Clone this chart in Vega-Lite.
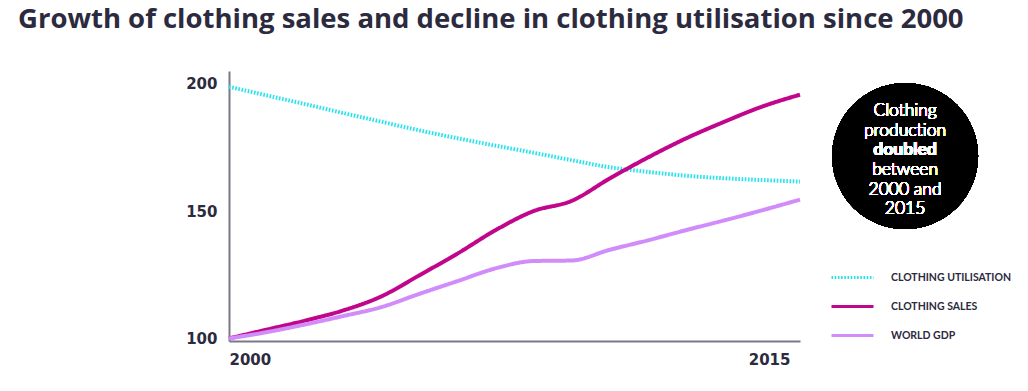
{
  "$schema": "https://vega.github.io/schema/vega-lite/v6.json",
  "autosize": "none",
  "width": 571,
  "height": 270,
  "padding": {"left": 229, "top": 71, "right": 228, "bottom": 50},
  "background": "white",
  "title": {
    "text": "Growth of clothing sales and decline in clothing utilisation since 2000",
    "anchor": "start",
    "frame": "group",
    "dx": -211,
    "offset": 16,
    "baseline": "alphabetic",
    "font": "Open Sans",
    "fontSize": 27.5,
    "fontWeight": "bold",
    "color": "#2c2a3e"
  },
  "config": {
    "view": {"stroke": null},
    "font": "Lato"
  },
  "data": {
    "values": [
      {"year": 2000, "series": "Clothing utilisation", "value": 198.8},
      {"year": 2001, "series": "Clothing utilisation", "value": 195.4},
      {"year": 2002, "series": "Clothing utilisation", "value": 192.0},
      {"year": 2003, "series": "Clothing utilisation", "value": 188.5},
      {"year": 2004, "series": "Clothing utilisation", "value": 185.1},
      {"year": 2005, "series": "Clothing utilisation", "value": 181.7},
      {"year": 2006, "series": "Clothing utilisation", "value": 178.6},
      {"year": 2007, "series": "Clothing utilisation", "value": 175.7},
      {"year": 2008, "series": "Clothing utilisation", "value": 172.9},
      {"year": 2009, "series": "Clothing utilisation", "value": 170.0},
      {"year": 2010, "series": "Clothing utilisation", "value": 167.2},
      {"year": 2011, "series": "Clothing utilisation", "value": 165.4},
      {"year": 2012, "series": "Clothing utilisation", "value": 163.9},
      {"year": 2013, "series": "Clothing utilisation", "value": 162.9},
      {"year": 2014, "series": "Clothing utilisation", "value": 162.2},
      {"year": 2015, "series": "Clothing utilisation", "value": 161.6},
      {"year": 2000, "series": "Clothing sales", "value": 100.0},
      {"year": 2001, "series": "Clothing sales", "value": 103.5},
      {"year": 2002, "series": "Clothing sales", "value": 107.0},
      {"year": 2003, "series": "Clothing sales", "value": 111.0},
      {"year": 2004, "series": "Clothing sales", "value": 116.5},
      {"year": 2005, "series": "Clothing sales", "value": 124.8},
      {"year": 2006, "series": "Clothing sales", "value": 133.3},
      {"year": 2007, "series": "Clothing sales", "value": 142.5},
      {"year": 2008, "series": "Clothing sales", "value": 150.0},
      {"year": 2009, "series": "Clothing sales", "value": 154.0},
      {"year": 2010, "series": "Clothing sales", "value": 162.8},
      {"year": 2011, "series": "Clothing sales", "value": 171.0},
      {"year": 2012, "series": "Clothing sales", "value": 178.5},
      {"year": 2013, "series": "Clothing sales", "value": 185.0},
      {"year": 2014, "series": "Clothing sales", "value": 191.0},
      {"year": 2015, "series": "Clothing sales", "value": 195.7},
      {"year": 2000, "series": "World GDP", "value": 100.0},
      {"year": 2001, "series": "World GDP", "value": 102.5},
      {"year": 2002, "series": "World GDP", "value": 105.5},
      {"year": 2003, "series": "World GDP", "value": 108.8},
      {"year": 2004, "series": "World GDP", "value": 112.3},
      {"year": 2005, "series": "World GDP", "value": 117.5},
      {"year": 2006, "series": "World GDP", "value": 122.5},
      {"year": 2007, "series": "World GDP", "value": 127.5},
      {"year": 2008, "series": "World GDP", "value": 130.4},
      {"year": 2009, "series": "World GDP", "value": 130.6},
      {"year": 2010, "series": "World GDP", "value": 134.8},
      {"year": 2011, "series": "World GDP", "value": 138.5},
      {"year": 2012, "series": "World GDP", "value": 142.5},
      {"year": 2013, "series": "World GDP", "value": 146.3},
      {"year": 2014, "series": "World GDP", "value": 150.3},
      {"year": 2015, "series": "World GDP", "value": 154.5}
    ]
  },
  "layer": [
    {
      "mark": {"type": "line", "interpolate": "monotone", "strokeWidth": 4, "strokeCap": "butt"},
      "encoding": {
        "x": {
          "field": "year", "type": "quantitative",
          "scale": {"domain": [2000, 2015], "nice": false, "zero": false},
          "axis": {
            "values": [2000, 2015], "format": "d", "title": null,
            "ticks": false, "grid": false, "labelFlush": true,
            "labelOffset": {"condition": {"test": "datum.value == 2015", "value": -10}, "value": 0},
            "domainColor": "#7a7786", "domainWidth": 2,
            "labelFont": "DejaVu Sans", "labelFontSize": 15, "labelFontWeight": "bold",
            "labelColor": "#2c2a3e", "labelPadding": 11
          }
        },
        "y": {
          "field": "value", "type": "quantitative",
          "scale": {"domain": [99, 205], "nice": false, "zero": false},
          "axis": {
            "values": [100, 150, 200], "title": null,
            "ticks": false, "grid": false,
            "domainColor": "#7a7786", "domainWidth": 2,
            "labelFont": "DejaVu Sans", "labelFontSize": 15, "labelFontWeight": "bold",
            "labelColor": "#2c2a3e", "labelPadding": 12
          }
        },
        "color": {
          "field": "series", "type": "nominal",
          "scale": {
            "domain": ["Clothing utilisation", "Clothing sales", "World GDP"],
            "range": ["#27e4ec", "#c1068b", "#d08cf9"]
          },
          "legend": {
            "orient": "none", "legendX": 601, "legendY": 184,
            "title": null, "symbolType": "stroke", "symbolSize": 1764,
            "symbolStrokeWidth": 3, "labelOffset": 16,
            "labelExpr": "upper(datum.label)",
            "labelFont": "Lato", "labelFontSize": 10.5, "labelFontWeight": "bold",
            "labelColor": "#2c2a3e", "rowPadding": 0
          }
        },
        "strokeDash": {
          "field": "series", "type": "nominal",
          "scale": {
            "domain": ["Clothing utilisation", "Clothing sales", "World GDP"],
            "range": [[1.6, 1.6], [1, 0], [1, 0]]
          },
          "legend": null
        }
      }
    },
    {
      "mark": {"type": "point", "filled": true, "shape": "circle", "size": 21316, "color": "#000000", "opacity": 1},
      "encoding": {
        "x": {"datum": 2017.76, "type": "quantitative"},
        "y": {"datum": 171.6, "type": "quantitative"}
      }
    },
    {
      "mark": {
        "type": "text", "text": ["Clothing", "production"],
        "align": "center", "baseline": "alphabetic", "lineHeight": 19.6,
        "font": "Lato", "fontSize": 17.5, "fontWeight": 300, "color": "#ffffff"
      },
      "encoding": {
        "x": {"datum": 2017.76, "type": "quantitative"},
        "y": {"datum": 187.25, "type": "quantitative"}
      }
    },
    {
      "mark": {
        "type": "text", "text": "doubled",
        "align": "center", "baseline": "alphabetic",
        "font": "Lato", "fontSize": 17.5, "fontWeight": "bold", "color": "#ffffff"
      },
      "encoding": {
        "x": {"datum": 2017.76, "type": "quantitative"},
        "y": {"datum": 171.9, "type": "quantitative"}
      }
    },
    {
      "mark": {
        "type": "text", "text": ["between", "2000 and", "2015"],
        "align": "center", "baseline": "alphabetic", "lineHeight": 19.6,
        "font": "Lato", "fontSize": 17.5, "fontWeight": 300, "color": "#ffffff"
      },
      "encoding": {
        "x": {"datum": 2017.76, "type": "quantitative"},
        "y": {"datum": 164.2, "type": "quantitative"}
      }
    }
  ]
}
